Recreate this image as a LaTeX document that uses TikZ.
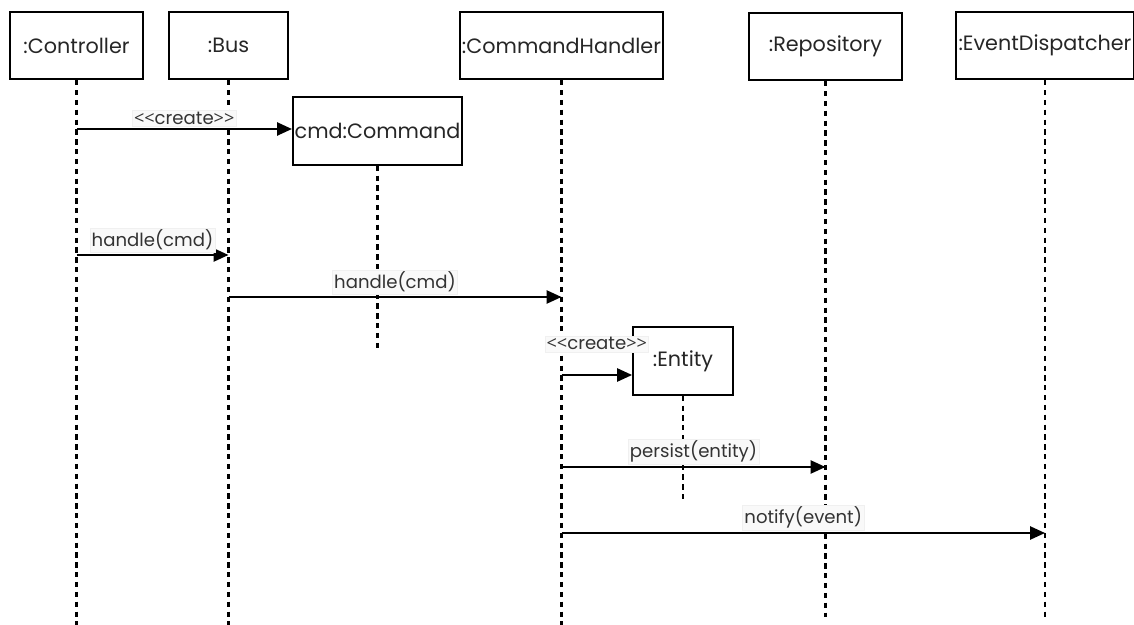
\documentclass[tikz,border=0pt]{standalone}
\usepackage{fontspec}
\setmainfont{Poppins}
\newfontfamily\brkfont{Open Sans}
\usetikzlibrary{arrows.meta,positioning}

\newcommand{\crt}{{\brkfont <\kern0pt<}create{\brkfont >\kern0pt>}}

\begin{document}
\begin{tikzpicture}[x=0.02cm,y=-0.02cm,
    obj/.style={draw,line width=1.1pt,minimum height=1.35cm,inner sep=1pt,
      font=\fontsize{11.8}{14}\selectfont,text=black!85},
    life/.style={line width=1.2pt,dash pattern=on 3pt off 2.6pt},
    msg/.style={line width=1.1pt,-{Triangle[length=8.5pt,width=7.5pt]}},
    lbl/.style={fill=gray!5,draw=gray!12,line width=0.3pt,inner sep=1pt,
      font=\fontsize{10.3}{12}\selectfont,text=black!80}]
    \useasboundingbox (0,0) rectangle (1134,625);
    % objects
    \node[obj,minimum width=2.66cm] (ctl) at (76.5,45.5) {:Controller};
    \node[obj,minimum width=2.38cm] (bus) at (228.5,45.5) {:Bus};
    \node[obj,minimum width=4.06cm] (ch) at (561.5,45.5) {:CommandHandler};
    \node[obj,minimum width=3.06cm] (repo) at (825.5,46.5) {:Repository};
    \node[obj,minimum width=3.56cm] (ed) at (1045,45.5) {:EventDispatcher};
    \node[obj,minimum width=3.38cm] (cmd) at (377.5,131) {cmd:Command};
    \node[obj,minimum width=2cm] (ent) at (683,361) {:Entity};
    % lifelines
    \coordinate (ctl-end) at (76.5,625);
    \coordinate (bus-end) at (228.5,625);
    \coordinate (ch-end) at (561.5,625);
    \coordinate (repo-end) at (825.5,617);
    \coordinate (ed-end) at (1045,617);
    \coordinate (cmd-end) at (377.5,349);
    \coordinate (ent-end) at (683,500);
    \foreach \o in {ctl,bus,ch,repo,ed,cmd,ent}
      \draw[life] (\o) -- (\o-end);
    % messages
    \coordinate (ctl-m1) at (76.5,129);
    \coordinate (ctl-m2) at (76.5,255);
    \coordinate (bus-m2) at (228.5,255);
    \coordinate (bus-m3) at (228.5,297);
    \coordinate (ch-m3) at (561.5,297);
    \coordinate (ch-m4) at (561.5,375);
    \coordinate (ch-m5) at (561.5,467);
    \coordinate (repo-m5) at (825.5,467);
    \coordinate (ch-m6) at (561.5,533);
    \coordinate (ed-m6) at (1045,533);
    \draw[msg] (ctl-m1) -- (ctl-m1 -| cmd.west)
      node[midway,above=1.5pt,lbl] {\crt};
    \draw[msg] (ctl-m2) -- (bus-m2) node[midway,above=1.5pt,lbl] {handle(cmd)};
    \draw[msg] (bus-m3) -- (ch-m3) node[midway,above=1.5pt,lbl] {handle(cmd)};
    \draw[msg] (ch-m4) -- (ch-m4 -| ent.west)
      node[midway,above=13pt,lbl] {\crt};
    \draw[msg] (ch-m5) -- (repo-m5) node[midway,above=1.5pt,lbl] {persist(entity)};
    \draw[msg] (ch-m6) -- (ed-m6) node[midway,above=1.5pt,lbl] {notify(event)};
\end{tikzpicture}
\end{document}
